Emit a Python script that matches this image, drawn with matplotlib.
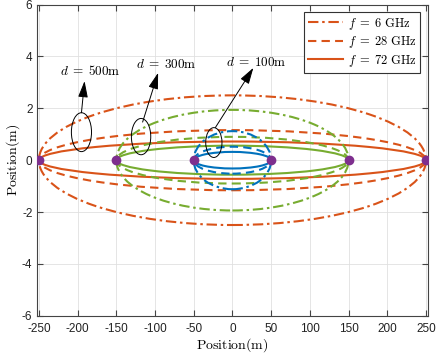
"""
Fresnel zones for several link distances and carrier frequencies
"""
import matplotlib.pyplot as plt
from matplotlib.patches import Ellipse

plt.rcParams['font.family'] = ['Liberation Sans', 'DejaVu Sans']
plt.rcParams['mathtext.fontset'] = 'cm'
plt.rcParams['axes.unicode_minus'] = False

# link distances (m) and max Fresnel radius at the midpoint (m)
distances = [500, 300, 100]
freq_labels = ['6', '28', '72']
radius_6ghz = [2.50, 1.94, 1.12]
radius_28ghz = [1.16, 0.90, 0.52]
radius_72ghz = [0.72, 0.56, 0.32]

# annotation ellipses: centre x, centre y, width, height
note_x = [-195, -118, -24]
note_y = [1.08, 0.91, 0.68]
note_w = [26, 25, 21]
note_h = [1.5, 1.4, 1.15]
arrow_start = [(-195, 1.83), (-116, 1.47), (-22, 1.26)]
arrow_end = [(-191, 3.05), (-96, 3.37), (27, 3.56)]
text_pos = [(-183, 3.43), (-86, 3.69), (31, 3.78)]

colors = ['#D95319', '#77AC30', '#0072BD']
styles = [(0, (5, 1.8, 1.2, 1.8)), (0, (4, 2.5)), '-']

fig = plt.figure(figsize=(4.36, 3.54), dpi=100)
ax = fig.add_axes([0.0856, 0.108, 0.895, 0.879])

radii = [radius_6ghz, radius_28ghz, radius_72ghz]
for j, d in enumerate(distances):
    for k in range(3):
        e = Ellipse((0, 0), d, 2 * radii[k][j], fill=False, edgecolor=colors[j],
                    linestyle=styles[k], linewidth=1.5, zorder=3)
        ax.add_patch(e)
    ax.plot([-d / 2, d / 2], [0, 0], 'o', color='#7E2F8E', markersize=6,
            linestyle='none', zorder=5)

# legend handles (orange, like d = 500 m)
for k in range(3):
    ax.plot([], [], color=colors[0], linestyle=styles[k], linewidth=1.5,
            label=r'$f\;=\;%s\ \mathrm{GHz}$' % freq_labels[k])

for i in range(3):
    ax.add_patch(Ellipse((note_x[i], note_y[i]), note_w[i], note_h[i], fill=False,
                         edgecolor='black', linewidth=0.7, zorder=6))
    ax.annotate('', xy=arrow_end[i], xytext=arrow_start[i],
                arrowprops=dict(arrowstyle='-|>,head_length=1.0,head_width=0.3',
                                color='black', linewidth=0.7,
                                shrinkA=0, shrinkB=0), zorder=6)
    ax.text(text_pos[i][0], text_pos[i][1], r'$d\;=\;%d\mathrm{m}$' % distances[i],
            ha='center', va='center', fontsize=9.5)

ax.set_xlim(-252, 252)
ax.set_ylim(-6, 6)
ax.set_xticks(range(-250, 251, 50))
ax.set_yticks(range(-6, 7, 2))
ax.grid(True, color='#e0e0e0', linewidth=0.6)
ax.set_axisbelow(True)
ax.tick_params(direction='in', top=True, right=True, labelsize=8.5, length=4,
               color='#444444', labelcolor='#222222')
ax.tick_params(axis='x', pad=5)
for sp in ax.spines.values():
    sp.set_color('#444444')
    sp.set_linewidth(0.8)
ax.set_xlabel(r'$\mathrm{Position(m)}$', fontsize=10, labelpad=1)
ax.set_ylabel(r'$\mathrm{Position(m)}$', fontsize=10, labelpad=0)

leg = ax.legend(loc='upper right', fontsize=9, fancybox=False, edgecolor='#333333',
                framealpha=1, handlelength=2.8, handletextpad=0.35, borderpad=0.3,
                labelspacing=0.2, borderaxespad=0.6)
leg.get_frame().set_linewidth(0.8)

plt.savefig('out.png', dpi=100)
